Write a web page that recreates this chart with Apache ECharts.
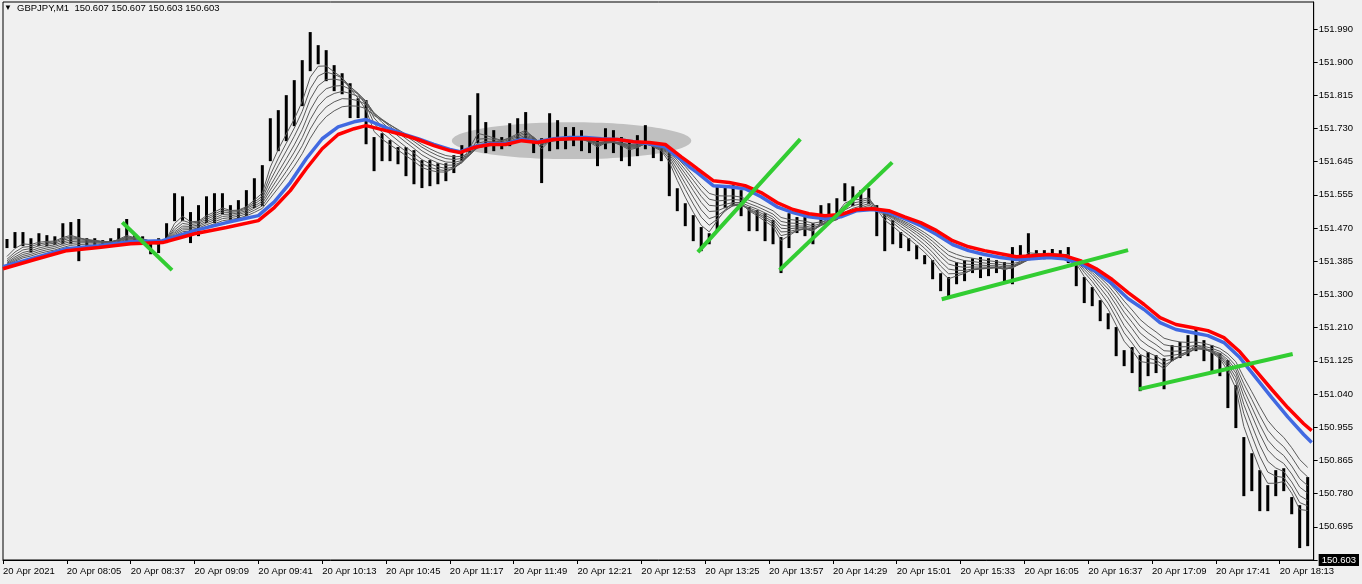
<!DOCTYPE html>
<html><head><meta charset="utf-8">
<script src="https://cdn.jsdelivr.net/npm/echarts@6/dist/echarts.min.js"></script>
<style>html,body{margin:0;padding:0;background:#f0f0f0;}#c{width:1362px;height:584px;}</style>
</head><body><div id="c"></div>
<script>
// ---- DATA ----
const symbolTitle = 'GBPJPY,M1  150.607 150.607 150.603 150.603';
const BAR_MINUTES = 4;           // each drawn bar aggregates 4 one-minute bars (07:33 start)
const barHigh = [
151.442,151.460,151.460,151.444,151.457,151.452,151.449,151.483,151.486,151.494,
151.444,151.444,151.439,151.444,151.470,151.494,151.452,151.449,151.439,151.444,
151.483,151.561,151.553,151.512,151.530,151.553,151.561,151.561,151.530,151.543,
151.569,151.600,151.634,151.756,151.777,151.816,151.855,151.907,151.980,151.946,
151.933,151.894,151.873,151.847,151.808,151.803,151.707,151.717,151.699,151.681,
151.681,151.673,151.647,151.647,151.639,151.639,151.660,151.686,151.764,151.821,
151.746,151.725,151.707,151.743,151.756,151.772,151.704,151.704,151.769,151.751,
151.733,151.733,151.725,151.704,151.704,151.730,151.725,151.707,151.694,151.712,
151.738,151.686,151.678,151.668,151.574,151.535,151.504,151.473,151.457,151.577,
151.577,151.582,151.569,151.525,151.517,151.509,151.491,151.447,151.509,151.499,
151.499,151.483,151.530,151.535,151.548,151.587,151.579,151.569,151.574,151.530,
151.509,151.491,151.460,151.444,151.426,151.400,151.387,151.353,151.343,151.382,
151.387,151.392,151.395,151.392,151.387,151.382,151.421,151.426,151.457,151.413,
151.413,151.416,151.413,151.421,151.387,151.343,151.317,151.283,151.249,151.213,
151.153,151.161,151.140,151.148,151.140,151.132,151.166,151.174,151.192,151.213,
151.179,151.166,151.145,151.127,151.062,150.927,150.885,150.841,150.802,150.841,
150.846,150.771,150.750,150.823];
const barLow = [
151.421,151.421,151.426,151.410,151.426,151.426,151.429,151.431,151.431,151.387,
151.426,151.426,151.423,151.426,151.431,151.431,151.431,151.429,151.405,151.408,
151.434,151.491,151.491,151.434,151.452,151.486,151.486,151.509,151.491,151.496,
151.504,151.525,151.530,151.647,151.673,151.699,151.738,151.790,151.881,151.899,
151.855,151.829,151.821,151.759,151.759,151.691,151.621,151.647,151.647,151.639,
151.608,151.587,151.577,151.582,151.587,151.595,151.616,151.647,151.668,151.694,
151.668,151.673,151.678,151.686,151.699,151.699,151.668,151.590,151.673,151.678,
151.678,151.686,151.673,151.668,151.634,151.678,151.668,151.647,151.634,151.660,
151.678,151.655,151.647,151.556,151.517,151.478,151.439,151.413,151.431,151.465,
151.525,151.530,151.504,151.465,151.465,151.439,151.431,151.356,151.421,151.460,
151.452,151.431,151.483,151.486,151.496,151.543,151.530,151.525,151.535,151.452,
151.413,151.431,151.421,151.413,151.392,151.379,151.340,151.309,151.296,151.327,
151.335,151.356,151.343,151.348,151.356,151.335,151.327,151.387,151.400,151.395,
151.392,151.395,151.392,151.382,151.322,151.278,151.270,151.231,151.210,151.140,
151.114,151.096,151.049,151.088,151.096,151.054,151.127,151.135,151.140,151.153,
151.127,151.101,151.088,151.005,150.953,150.776,150.789,150.737,150.737,150.776,
150.789,150.729,150.641,150.646];
// moving-average lines (minutes since 07:33)
const maMinutes = [0,16,32,48,64,80,96,112,128,136,144,152,160,168,176,182,192,200,208,216,
224,229,236,244,252,260,268,276,284,292,300,308,316,324,332,336,340,344,348,356,
364,372,380,388,396,404,412,420,428,436,444,452,460,468,476,484,492,500,508,516,
524,532,540,548,556,564,572,580,588,596,604,612,620,628,636,644,652,656];
const redMA = [151.366,151.390,151.413,151.421,151.431,151.434,151.457,151.473,151.491,151.525,
151.569,151.626,151.678,151.715,151.730,151.738,151.725,151.715,151.702,151.686,
151.673,151.668,151.681,151.689,151.689,151.699,151.694,151.702,151.704,151.704,
151.702,151.702,151.696,151.694,151.689,151.673,151.657,151.642,151.626,151.595,
151.590,151.582,151.564,151.538,151.520,151.509,151.504,151.507,151.520,151.522,
151.517,151.501,151.486,151.465,151.439,151.423,151.413,151.405,151.397,151.400,
151.403,151.400,151.387,151.366,151.338,151.304,151.273,151.239,151.221,151.213,
151.205,151.187,151.150,151.101,151.052,151.005,150.963,150.945];
const blueMA = [151.371,151.395,151.418,151.426,151.436,151.439,151.465,151.486,151.504,151.540,
151.590,151.652,151.704,151.735,151.748,151.754,151.733,151.717,151.704,151.689,
151.676,151.670,151.683,151.691,151.691,151.702,151.696,151.704,151.707,151.707,
151.704,151.702,151.696,151.691,151.683,151.665,151.650,151.631,151.616,151.582,
151.579,151.574,151.553,151.527,151.512,151.501,151.496,151.501,151.517,151.520,
151.512,151.496,151.478,151.455,151.429,151.413,151.403,151.395,151.390,151.392,
151.395,151.392,151.379,151.358,151.327,151.288,151.260,151.226,151.208,151.200,
151.192,151.174,151.135,151.083,151.031,150.981,150.935,150.914];
// thin EMA ribbon periods (minutes), derived from the bar data
const thinPeriods = [12, 17, 22, 28, 34, 41, 49];
// hand-drawn objects
const trendLines = [
  [[60.5,151.483],[84,151.366]],
  [[349,151.413],[399,151.699]],
  [[390,151.366],[445,151.639]],
  [[471.5,151.288],[563,151.413]],
  [[570.5,151.054],[645.5,151.143]]
];
const zoneEllipse = [[285, 151.699, 60, 0.048]]; // centre minute, centre price, half-width (min), half-height (price)
const xTickLabels = ['20 Apr 2021','20 Apr 08:05','20 Apr 08:37','20 Apr 09:09','20 Apr 09:41','20 Apr 10:13',
'20 Apr 10:45','20 Apr 11:17','20 Apr 11:49','20 Apr 12:21','20 Apr 12:53','20 Apr 13:25','20 Apr 13:57',
'20 Apr 14:29','20 Apr 15:01','20 Apr 15:33','20 Apr 16:05','20 Apr 16:37','20 Apr 17:09','20 Apr 17:41','20 Apr 18:13'];
const yTickLabels = ['150.603','150.695','150.780','150.865','150.955','151.040','151.125','151.210','151.300',
'151.385','151.470','151.555','151.645','151.730','151.815','151.900','151.990'];
const currentPrice = '150.603';

// ---- BUILD ----
const X_INTERVAL = 32, X_MIN = 0, X_MAX = 657;
const Y_INTERVAL = 0.0863087, Y_MIN = 150.6086815, Y_MAX = 152.0595;
const barData = barHigh.map((h, i) => [i * BAR_MINUTES + BAR_MINUTES / 2, h, barLow[i]]);
const mids = barHigh.map((h, i) => (h + barLow[i]) / 2);
function ema(period) {
  const a1 = 2 / (period + 1);
  const a = 1 - Math.pow(1 - a1, BAR_MINUTES);
  let v = redMA[0];
  return mids.map((m, i) => { v = v + a * (m - v); return [barData[i][0], v]; });
}
const FONT = 'Liberation Sans';
const series = [];
series.push({
  type: 'custom', z: 1, silent: true, data: zoneEllipse,
  renderItem(params, api) {
    const c = api.coord([api.value(0), api.value(1)]);
    const s = api.size([api.value(2), api.value(3)]);
    return { type: 'ellipse', shape: { cx: c[0], cy: c[1], rx: s[0], ry: s[1] }, style: { fill: '#c0c0c0' } };
  }
});
series.push({
  type: 'custom', z: 2, data: barData,
  renderItem(params, api) {
    const t = api.coord([api.value(0), api.value(1)]);
    const b = api.coord([api.value(0), api.value(2)]);
    return { type: 'line', shape: { x1: t[0], y1: t[1] - 0.5, x2: b[0], y2: b[1] + 0.5 }, style: { stroke: '#000', lineWidth: 3 } };
  }
});
thinPeriods.forEach(p => series.push({
  type: 'line', z: 3, data: ema(p), showSymbol: false, symbol: 'none',
  lineStyle: { color: '#5a5a5a', width: 1 }
}));
series.push({ type: 'line', z: 4, data: maMinutes.map((m, i) => [m, blueMA[i]]), symbol: 'none', lineStyle: { color: '#4169e1', width: 3.5 } });
series.push({ type: 'line', z: 5, data: maMinutes.map((m, i) => [m, redMA[i]]), symbol: 'none', lineStyle: { color: '#ff0000', width: 3.5 } });
trendLines.forEach(t => series.push({ type: 'line', z: 6, data: t, symbol: 'none', lineStyle: { color: '#32cd32', width: 4, cap: 'square' } }));

const chart = echarts.init(document.getElementById('c'), null, { renderer: 'canvas' });
chart.setOption({
  animation: false,
  backgroundColor: '#f0f0f0',
  textStyle: { fontFamily: FONT },
  grid: { left: 2, top: 2, right: 46, bottom: 24, show: true, borderColor: '#000', borderWidth: 1 },
  graphic: [
    { type: 'text', left: 4, top: 4, style: { text: '▼', fontSize: 8, fill: '#000', fontFamily: FONT } },
    { type: 'text', left: 17, top: 3, style: { text: symbolTitle, fontSize: 9.5, fill: '#000', fontFamily: FONT } }
  ],
  xAxis: {
    type: 'value', min: X_MIN, max: X_MAX, interval: X_INTERVAL,
    axisLine: { show: true, lineStyle: { color: '#000', width: 1 } },
    axisTick: { show: true, inside: false, length: 4, lineStyle: { color: '#000' } },
    minorTick: { show: false },
    splitLine: { show: false },
    axisLabel: {
      margin: 6, align: 'left', color: '#000', fontSize: 9.5, fontFamily: FONT,
      showMaxLabel: false,
      formatter: v => { const k = Math.round((v - X_MIN) / X_INTERVAL); return Math.abs(v - k * X_INTERVAL) < 0.01 && xTickLabels[k] ? xTickLabels[k] : ''; }
    }
  },
  yAxis: {
    type: 'value', position: 'right', min: Y_MIN, max: Y_MAX, interval: Y_INTERVAL, scale: true,
    axisLine: { show: true, onZero: false, lineStyle: { color: '#000', width: 1 } },
    axisTick: { show: true, inside: false, length: 4, lineStyle: { color: '#000' } },
    minorTick: { show: false },
    splitLine: { show: false },
    splitArea: { show: false },
    axisLabel: {
      margin: 5, color: '#000', fontSize: 9.5, fontFamily: FONT, showMinLabel: true, showMaxLabel: false,
      formatter: v => {
        const k = Math.round((v - Y_MIN) / Y_INTERVAL);
        if (Math.abs(v - (Y_MIN + k * Y_INTERVAL)) > 0.002) return '';
        if (k === 0) return '{tag|' + currentPrice + '}';
        return yTickLabels[k] || '';
      },
      rich: { tag: { backgroundColor: '#000', color: '#fff', fontSize: 9.5, fontFamily: FONT, padding: [1, 3, 1, 3] } }
    }
  },
  series
});
</script></body></html>
